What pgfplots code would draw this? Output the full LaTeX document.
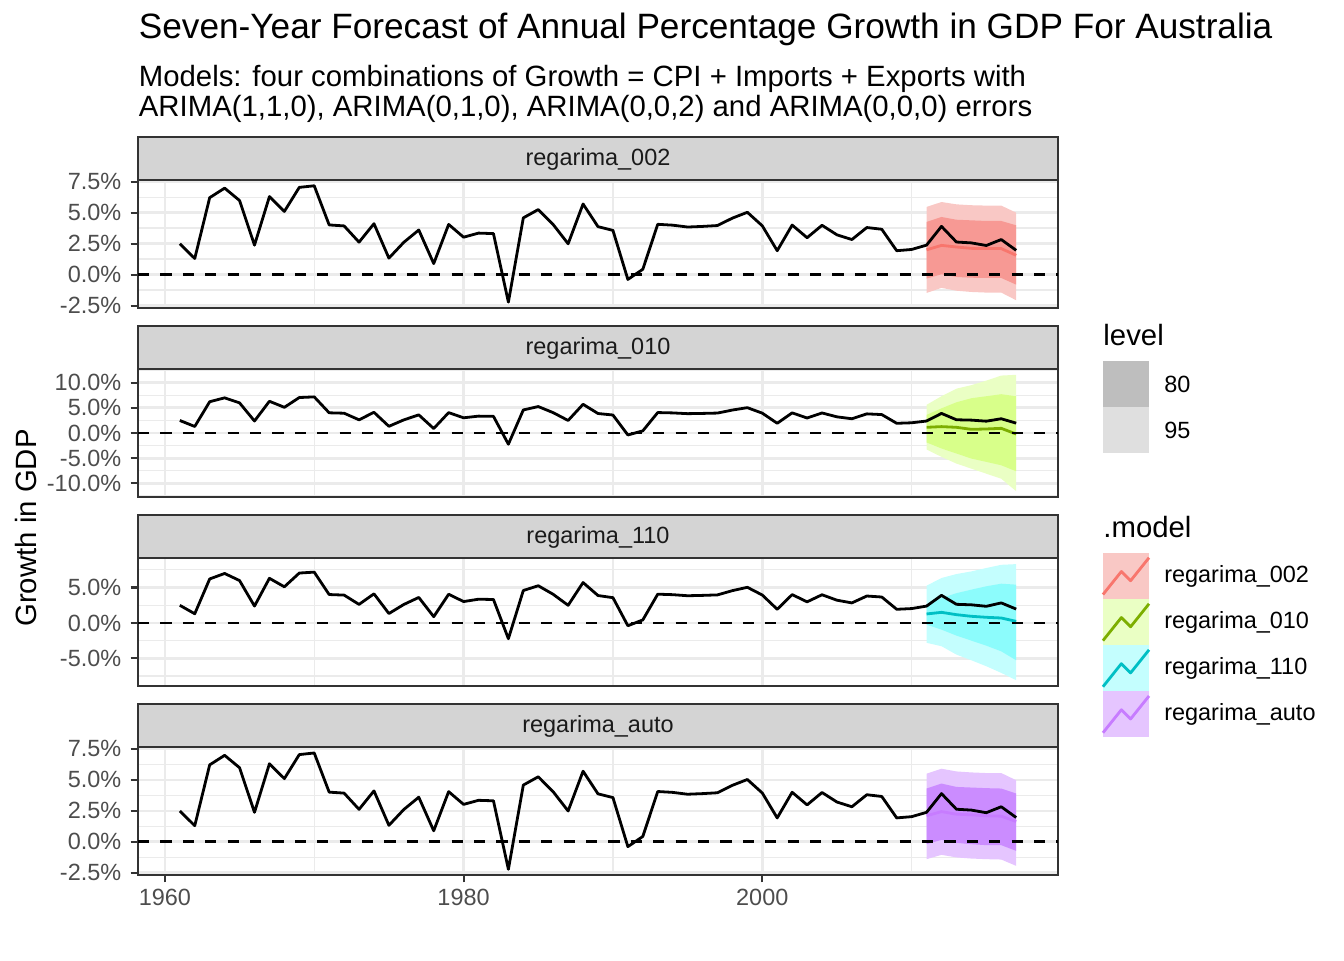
\documentclass[border=0pt]{standalone}
\usepackage{fontspec}
\setmainfont{Liberation Sans}
\usepackage{pgfplots}
\pgfplotsset{compat=1.18}
\usepackage{pgfplotstable}
\usepgfplotslibrary{fillbetween}

\definecolor{grey10}{HTML}{1A1A1A}
\definecolor{grey20}{HTML}{333333}
\definecolor{grey30}{HTML}{4D4D4D}
\definecolor{grey92}{HTML}{EBEBEB}
\definecolor{stripgrey}{HTML}{D4D4D4}
\definecolor{lv80}{HTML}{BEBEBE}
\definecolor{lv95}{HTML}{DFDFDF}
% model colours: line, 80% band, 95% band
\definecolor{ca}{HTML}{F8766D}\definecolor{ca80}{HTML}{F79994}\definecolor{ca95}{HTML}{F9C8C5}
\definecolor{cb}{HTML}{7CAE00}\definecolor{cb80}{HTML}{D8FF8A}\definecolor{cb95}{HTML}{EAFFC4}
\definecolor{cc}{HTML}{00BFC4}\definecolor{cc80}{HTML}{8CFCFC}\definecolor{cc95}{HTML}{C4FEFE}
\definecolor{cd}{HTML}{C77CFF}\definecolor{cd80}{HTML}{CB8CFF}\definecolor{cd95}{HTML}{E5C5FF}

% annual GDP growth, Australia (%)
\pgfplotstableread{
year growth
1961 2.49
1962 1.30
1963 6.21
1964 6.98
1965 5.98
1966 2.38
1967 6.30
1968 5.10
1969 7.04
1970 7.17
1971 4.01
1972 3.93
1973 2.62
1974 4.11
1975 1.33
1976 2.61
1977 3.60
1978 0.89
1979 4.05
1980 3.02
1981 3.35
1982 3.31
1983 -2.22
1984 4.58
1985 5.25
1986 4.04
1987 2.49
1988 5.70
1989 3.87
1990 3.57
1991 -0.39
1992 0.43
1993 4.06
1994 3.99
1995 3.84
1996 3.89
1997 3.96
1998 4.56
1999 5.03
2000 3.94
2001 1.93
2002 4.00
2003 2.98
2004 3.98
2005 3.21
2006 2.83
2007 3.80
2008 3.66
2009 1.93
2010 2.03
2011 2.38
2012 3.89
2013 2.63
2014 2.56
2015 2.35
2016 2.83
2017 1.96
}\gdp

\pgfplotstableread{
year mean lo80 hi80 lo95 hi95
2011 2.00 -0.32 4.25 -1.48 5.46
2012 2.36 0.03 4.65 -1.07 5.86
2013 2.23 -0.19 4.43 -1.30 5.67
2014 2.12 -0.25 4.38 -1.40 5.60
2015 2.10 -0.27 4.33 -1.45 5.57
2016 2.10 -0.27 4.33 -1.45 5.57
2017 1.56 -0.81 3.98 -2.07 5.00
}\fcA

\pgfplotstableread{
year mean lo80 hi80 lo95 hi95
2011 1.13 -1.87 3.60 -3.27 5.60
2012 1.27 -3.07 4.90 -4.73 7.30
2013 1.13 -4.07 6.10 -6.07 8.80
2014 0.73 -5.07 6.90 -7.07 9.50
2015 0.80 -5.73 7.30 -8.07 10.40
2016 0.93 -6.40 7.70 -9.07 11.40
2017 -0.20 -7.60 7.30 -11.55 11.55
}\fcB

\pgfplotstableread{
year mean lo80 hi80 lo95 hi95
2011 1.27 -0.23 2.58 -2.80 5.26
2012 1.50 -0.94 3.50 -3.28 6.34
2013 1.17 -1.78 4.20 -4.46 6.90
2014 0.94 -2.49 4.70 -5.26 7.27
2015 0.80 -3.20 5.17 -6.10 7.75
2016 0.70 -4.00 5.54 -7.04 8.20
2017 0.23 -5.26 5.40 -8.07 8.30
}\fcC

\pgfplotstableread{
year mean lo80 hi80 lo95 hi95
2011 2.10 -0.19 4.30 -1.40 5.50
2012 2.44 0.16 4.70 -1.05 5.90
2013 2.23 -0.08 4.43 -1.26 5.68
2014 2.18 -0.19 4.38 -1.35 5.60
2015 2.10 -0.27 4.33 -1.40 5.55
2016 2.07 -0.27 4.30 -1.43 5.55
2017 1.64 -0.73 3.90 -1.94 4.97
}\fcD

\pgfplotsset{
  panel/.style={
    at={(51.75pt,#1)}, anchor=north west,
    scale only axis, width=345pt, height=48pt,
    xmin=1958.2, xmax=2019.8,
    set layers,
    axis line style={grey20, line width=0.8pt},
    tick align=outside, tick pos=left,
    xtick={1960,1980,2000}, minor xtick={1950,1970,1990,2010},
    grid=both,
    major grid style={grey92, line width=1pt},
    minor grid style={grey92, line width=0.5pt},
    major tick length=2.75pt, minor tick length=0pt,
    ytick style={grey20, line width=0.8pt},
    yticklabel style={font=\fontsize{8.8}{10}\selectfont, text=grey30},
    xticklabel style={font=\fontsize{8.8}{10}\selectfont, text=grey30, yshift=1.1pt},
  },
  hidex/.style={xticklabels={}, xtick style={draw=none}},
}

% bands, mean forecast, zero line and the observed series
\newcommand{\panelplots}[4]{%
  \addplot[draw=none, name path=u95] table[x=year, y=hi95] {#1};
  \addplot[draw=none, name path=l95] table[x=year, y=lo95] {#1};
  \addplot[draw=none, name path=u80] table[x=year, y=hi80] {#1};
  \addplot[draw=none, name path=l80] table[x=year, y=lo80] {#1};
  \addplot[fill=#3, draw=none] fill between[of=u95 and l95];
  \addplot[fill=#2, draw=none] fill between[of=u80 and l80];
  \addplot[#4, line width=1.05pt, line join=round] table[x=year, y=mean] {#1};
  \addplot[black, line width=1.05pt, dash pattern=on 4.2pt off 4.2pt] coordinates {(1958.2,0) (2019.8,0)};
  \addplot[black, line width=1.05pt, line join=round] table[x=year, y=growth] {\gdp};
}

\begin{document}
\begin{tikzpicture}

\begin{axis}[panel=-67.475pt, hidex, name=p1,
  ymin=-2.69, ymax=7.64,
  ytick={-2.5,0,2.5,5,7.5}, yticklabels={-2.5\%,0.0\%,2.5\%,5.0\%,7.5\%},
  minor ytick={-1.25,1.25,3.75,6.25}]
\panelplots{\fcA}{ca80}{ca95}{ca}
\end{axis}

\begin{axis}[panel=-138.375pt, hidex, name=p2,
  ymin=-12.7, ymax=12.7,
  ytick={-10,-5,0,5,10}, yticklabels={-10.0\%,-5.0\%,0.0\%,5.0\%,10.0\%},
  minor ytick={-12.5,-7.5,-2.5,2.5,7.5,12.5}]
\panelplots{\fcB}{cb80}{cb95}{cb}
\end{axis}

\begin{axis}[panel=-209.275pt, hidex, name=p3,
  ymin=-8.9, ymax=9.15,
  ytick={-5,0,5}, yticklabels={-5.0\%,0.0\%,5.0\%},
  minor ytick={-7.5,-2.5,2.5,7.5}]
\panelplots{\fcC}{cc80}{cc95}{cc}
\end{axis}

\begin{axis}[panel=-280.175pt, name=p4,
  ymin=-2.69, ymax=7.64,
  ytick={-2.5,0,2.5,5,7.5}, yticklabels={-2.5\%,0.0\%,2.5\%,5.0\%,7.5\%},
  minor ytick={-1.25,1.25,3.75,6.25},
  xticklabels={1960,1980,2000},
  xtick style={grey20, line width=0.8pt}]
\panelplots{\fcD}{cd80}{cd95}{cd}
\end{axis}

% facet strips
\foreach \p/\t in {p1/regarima\_002, p2/regarima\_010, p3/regarima\_110, p4/regarima\_auto} {
  \draw[fill=stripgrey, draw=grey20, line width=0.8pt] (\p.north west) rectangle ([yshift=16.1pt]\p.north east);
  \node[font=\fontsize{8.8}{10}\selectfont, text=grey10] at ([yshift=7.6pt]\p.north) {\t};
}

% titles
\node[anchor=base west, inner sep=0, font=\fontsize{13.2}{15}\selectfont] at (51.9pt,-14.6pt)
  {Seven-Year Forecast of Annual Percentage Growth in GDP For Australia};
\node[anchor=base west, inner sep=0, font=\fontsize{11}{13}\selectfont] at (51.9pt,-32.25pt)
  {Models: four combinations of Growth = CPI + Imports + Exports with};
\node[anchor=base west, inner sep=0, font=\fontsize{11}{13}\selectfont] at (51.9pt,-43.5pt)
  {ARIMA(1,1,0), ARIMA(0,1,0), ARIMA(0,0,2) and ARIMA(0,0,0) errors};
\node[rotate=90, inner sep=0, font=\fontsize{11}{13}\selectfont] at (9.75pt,-198pt) {Growth in GDP};

% legend: level
\node[anchor=base west, inner sep=0, font=\fontsize{11}{13}\selectfont] at (413.6pt,-129.4pt) {level};
\fill[lv80] (413.6pt,-135.4pt) rectangle (430.88pt,-152.68pt);
\fill[lv95] (413.6pt,-152.68pt) rectangle (430.88pt,-169.96pt);
\node[anchor=west, inner sep=0, font=\fontsize{8.8}{10}\selectfont] at (436.4pt,-144.04pt) {80};
\node[anchor=west, inner sep=0, font=\fontsize{8.8}{10}\selectfont] at (436.4pt,-161.32pt) {95};

% legend: model
\node[anchor=base west, inner sep=0, font=\fontsize{11}{13}\selectfont] at (413.6pt,-201.4pt) {.model};
\foreach \i/\fc/\lc/\t in {0/ca95/ca/regarima\_002, 1/cb95/cb/regarima\_010, 2/cc95/cc/regarima\_110, 3/cd95/cd/regarima\_auto} {
  \begin{scope}[shift={({413.6pt},{-207.4pt-17.28pt*\i})}]
    \fill[\fc] (0,0) rectangle (17.28pt,-17.28pt);
    \draw[\lc, line width=1.05pt, line join=round] (0,-15.55pt) -- (6.91pt,-6.91pt) -- (10.37pt,-10.37pt) -- (17.28pt,-1.73pt);
    \node[anchor=west, inner sep=0, font=\fontsize{8.8}{10}\selectfont] at (22.8pt,-8.64pt) {\t};
  \end{scope}
}

% page size of the reference
\path (0,0) rectangle (504pt,-360pt);
\end{tikzpicture}
\end{document}
